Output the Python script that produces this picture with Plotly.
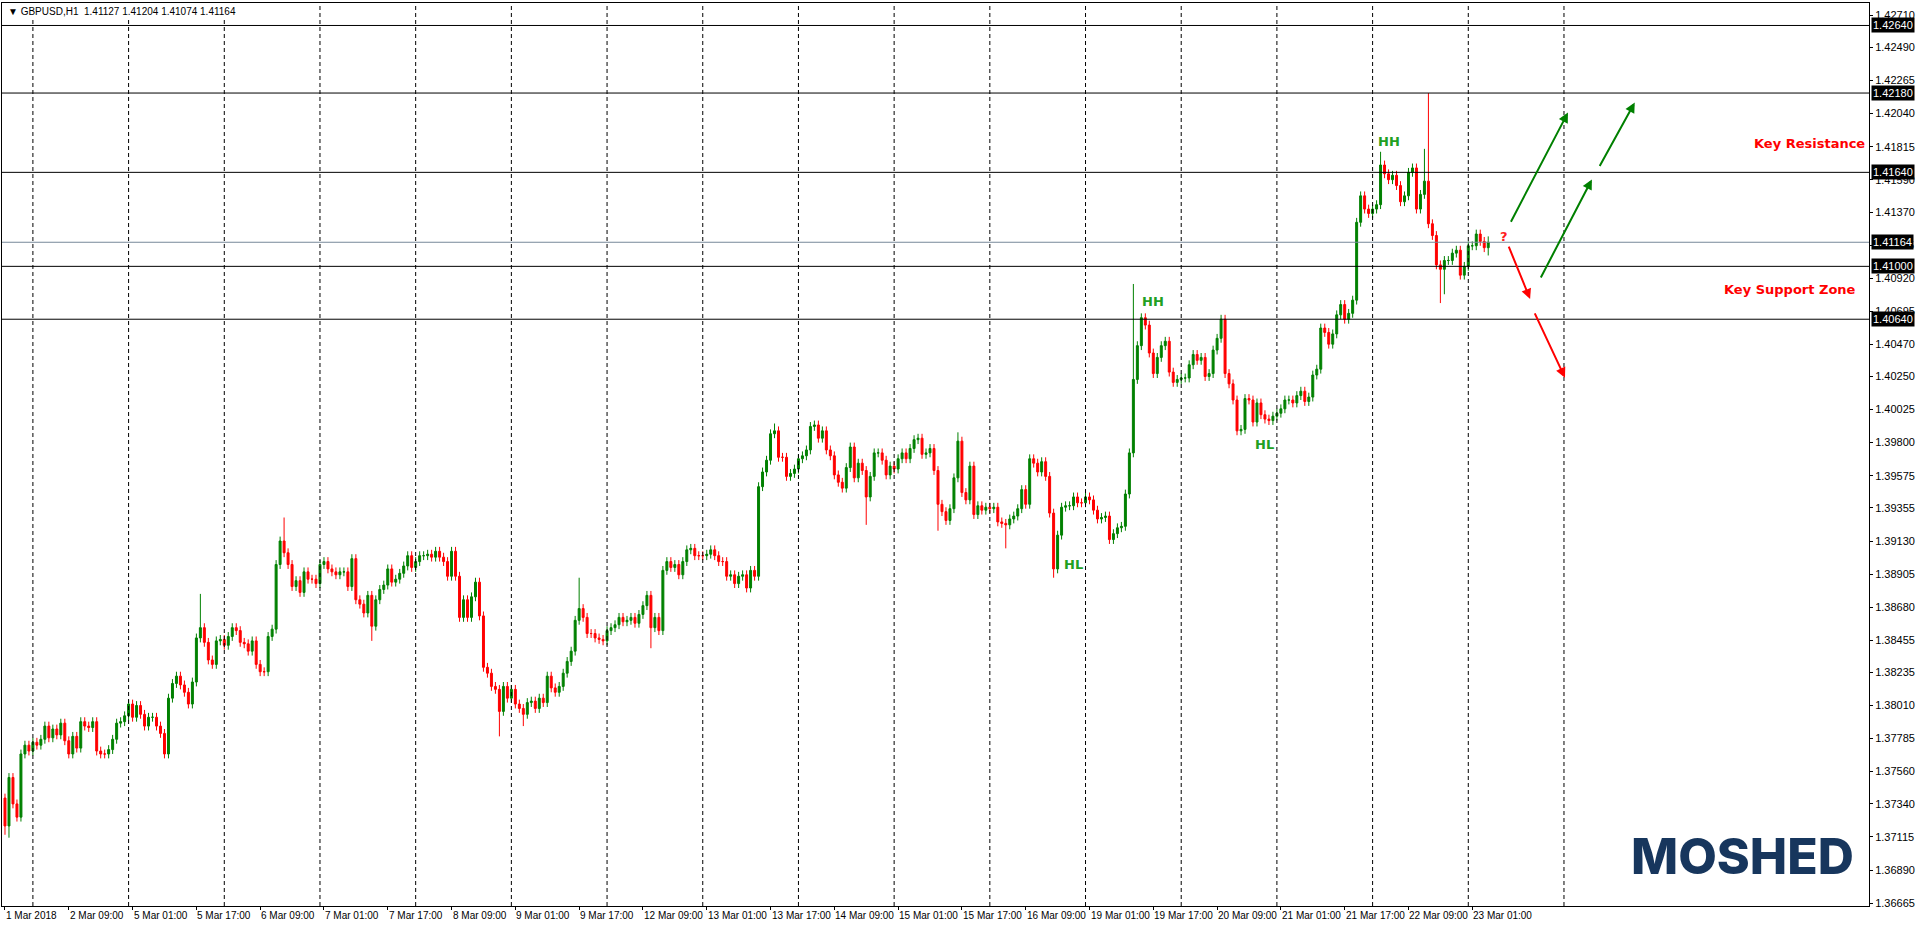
import plotly.graph_objects as go
from datetime import datetime, timedelta

# ---------------- data (hourly GBPUSD closes) ----------------
closes = [
1.3719,1.3752,1.3734,1.3725,1.3768,1.3774,1.3770,1.3776,1.3774,1.3778,
1.3787,1.3779,1.3785,1.3781,1.3789,1.3777,1.3768,1.3780,1.3772,1.3790,
1.3787,1.3786,1.3790,1.3770,1.3768,1.3768,1.3771,1.3778,1.3789,1.3790,
1.3794,1.3802,1.3793,1.3801,1.3795,1.3787,1.3793,1.3793,1.3787,1.3782,
1.3768,1.3806,1.3816,1.3821,1.3815,1.3810,1.3802,1.3817,1.3847,1.3854,
1.3844,1.3832,1.3829,1.3845,1.3846,1.3842,1.3848,1.3854,1.3852,1.3844,
1.3843,1.3838,1.3845,1.3829,1.3824,1.3824,1.3848,1.3853,1.3897,1.3913,
1.3905,1.3897,1.3882,1.3886,1.3878,1.3892,1.3887,1.3887,1.3884,1.3897,
1.3899,1.3894,1.3892,1.3890,1.3892,1.3892,1.3882,1.3901,1.3873,1.3870,
1.3864,1.3876,1.3855,1.3873,1.3880,1.3883,1.3894,1.3885,1.3887,1.3891,
1.3896,1.3903,1.3895,1.3899,1.3903,1.3903,1.3904,1.3902,1.3906,1.3902,
1.3899,1.3889,1.3906,1.3889,1.3861,1.3873,1.3861,1.3875,1.3885,1.3862,
1.3827,1.3823,1.3814,1.3812,1.3797,1.3814,1.3806,1.3812,1.3802,1.3799,
1.3795,1.3803,1.3804,1.3799,1.3806,1.3803,1.3821,1.3813,1.3810,1.3814,
1.3823,1.3831,1.3838,1.3859,1.3867,1.3861,1.3850,1.3850,1.3847,1.3846,
1.3845,1.3852,1.3854,1.3856,1.3861,1.3858,1.3859,1.3861,1.3857,1.3863,
1.3869,1.3876,1.3854,1.3861,1.3852,1.3893,1.3899,1.3895,1.3897,1.3890,
1.3899,1.3907,1.3908,1.3903,1.3903,1.3903,1.3904,1.3907,1.3903,1.3899,
1.3899,1.3889,1.3890,1.3884,1.3889,1.3890,1.3881,1.3893,1.3889,1.3950,
1.3960,1.3968,1.3986,1.3988,1.3970,1.3970,1.3957,1.3959,1.3962,1.3969,
1.3971,1.3975,1.3991,1.3992,1.3983,1.3988,1.3975,1.3971,1.3958,1.3953,
1.3949,1.3963,1.3977,1.3956,1.3966,1.3961,1.3943,1.3957,1.3973,1.3973,
1.3968,1.3958,1.3964,1.3962,1.3969,1.3973,1.3969,1.3976,1.3982,1.3983,
1.3972,1.3973,1.3976,1.3961,1.3938,1.3933,1.3927,1.3935,1.3956,1.3981,
1.3946,1.3941,1.3964,1.3931,1.3937,1.3934,1.3936,1.3935,1.3936,1.3926,
1.3925,1.3924,1.3928,1.3930,1.3935,1.3948,1.3938,1.3969,1.3966,1.3960,
1.3967,1.3957,1.3932,1.3894,1.3917,1.3936,1.3937,1.3937,1.3943,1.3939,
1.3939,1.3943,1.3941,1.3934,1.3928,1.3929,1.3930,1.3914,1.3918,1.3922,
1.3923,1.3945,1.3973,1.4023,1.4046,1.4065,1.4060,1.4041,1.4027,1.4038,
1.4046,1.4049,1.4028,1.4021,1.4023,1.4024,1.4024,1.4033,1.4040,1.4036,
1.4038,1.4025,1.4027,1.4043,1.4051,1.4064,1.4027,1.4020,1.4009,1.3988,
1.3989,1.4010,1.4009,1.3994,1.4007,1.3999,1.3996,1.3995,1.3998,1.4000,
1.4003,1.4009,1.4009,1.4007,1.4012,1.4015,1.4008,1.4011,1.4026,1.4030,
1.4058,1.4055,1.4047,1.4054,1.4067,1.4074,1.4064,1.4068,1.4077,1.4130,
1.4148,1.4139,1.4136,1.4139,1.4142,1.4169,1.4163,1.4159,1.4162,1.4155,
1.4144,1.4148,1.4164,1.4167,1.4139,1.4149,1.4158,1.4129,1.4121,1.4101,
1.4098,1.4104,1.4104,1.4109,1.4111,1.4094,1.4100,1.4114,1.4114,1.4122,
1.4117,1.41127,1.41164]
first_open = 1.3738
wick = 0.0003
high_over = {49: 1.3877, 70: 1.3929, 144: 1.3888, 193: 1.3993, 239: 1.3987,
             283: 1.4088, 285: 1.4068, 345: 1.4178, 356: 1.4180, 357: 1.4218, 372: 1.41204}
low_over = {0: 1.3713, 1: 1.3711, 92: 1.3845, 124: 1.3780, 130: 1.3787, 162: 1.3840,
            216: 1.3924, 234: 1.3920, 251: 1.3908, 263: 1.3888, 277: 1.3911,
            309: 1.3985, 360: 1.4075, 361: 1.4081, 372: 1.41074}

level_lines = [1.42640, 1.42180, 1.41640, 1.41000, 1.40640]
bid_line = 1.41164
y_ticks = [1.42710,1.42490,1.42265,1.42040,1.41815,1.41590,1.41370,1.41145,1.40920,
           1.40695,1.40470,1.40250,1.40025,1.39800,1.39575,1.39355,1.39130,1.38905,
           1.38680,1.38455,1.38235,1.38010,1.37785,1.37560,1.37340,1.37115,1.36890,1.36665]
swing_labels = [("HH", 288, 1.4076), ("HH", 347, 1.4185), ("HL", 268, 1.3897), ("HL", 316, 1.3979)]
green_arrows = [((377.5, 1.41294), (392, 1.42047)), ((385, 1.40914), (398, 1.41592)),
                ((399.75, 1.41673), (408.75, 1.42115))]
red_arrows = [((377, 1.41144), (382.5, 1.40778)), ((383.5, 1.40690), (391.25, 1.40242))]
last_grid_bar = 391

# ---------------- build ----------------
n = len(closes)
opens = [first_open] + closes[:-1]
opens[-1] = 1.41127
highs = [high_over.get(i, max(o, c) + wick) for i, (o, c) in enumerate(zip(opens, closes))]
lows = [low_over.get(i, min(o, c) - wick) for i, (o, c) in enumerate(zip(opens, closes))]
x = list(range(n))

times = []
t = datetime(2018, 3, 1, 17)
while len(times) < 480:
    if t.weekday() < 5:
        times.append(t)
    t += timedelta(hours=1)

fig = go.Figure(go.Candlestick(
    x=x, open=opens, high=highs, low=lows, close=closes,
    increasing=dict(line=dict(color="#008000", width=1), fillcolor="#008000"),
    decreasing=dict(line=dict(color="#ff0000", width=1), fillcolor="#ff0000"),
    whiskerwidth=0, hoverinfo="skip"))

YMIN, YMAX = 1.36645, 1.42793
XMIN, XMAX = -0.75, 467.5
FONT = "Liberation Sans"
shapes = []
for i, tt in enumerate(times):
    if tt.hour == 0 and XMIN < i <= last_grid_bar:
        shapes.append(dict(type="line", xref="x", yref="paper", x0=i, x1=i, y0=0, y1=1,
                           line=dict(color="black", width=1, dash="4px,3px")))
for lv in level_lines:
    shapes.append(dict(type="line", xref="paper", yref="y", x0=0, x1=1, y0=lv, y1=lv,
                       line=dict(color="black", width=1)))
shapes.append(dict(type="line", xref="paper", yref="y", x0=0, x1=1, y0=bid_line, y1=bid_line,
                   line=dict(color="#778899", width=1)))

ann = []
for lv in level_lines + [bid_line]:
    ann.append(dict(xref="paper", yref="y", x=1.0, y=lv, xanchor="left", yanchor="middle",
                    text=f"{lv:.5f}", showarrow=False, bgcolor="black", borderpad=1,
                    font=dict(color="white", size=11, family=FONT), xshift=2))
for i in range(0, 369, 16):
    tt = times[i]
    lab = "1 Mar 2018" if i == 0 else f"{tt.day} Mar {tt.hour:02d}:00"
    ann.append(dict(xref="x", yref="paper", x=i, y=0, xanchor="left", yanchor="top",
                    text=lab, showarrow=False, yshift=-2, xshift=-1,
                    font=dict(color="black", size=10, family=FONT)))
for txt, bx, py in swing_labels:
    ann.append(dict(xref="x", yref="y", x=bx, y=py, text=f"<b>{txt}</b>", showarrow=False,
                    font=dict(color="#22a022", size=13, family="DejaVu Sans")))
for (p0, p1), col in [(a, "#008000") for a in green_arrows] + [(a, "#ff0000") for a in red_arrows]:
    ann.append(dict(xref="x", yref="y", axref="x", ayref="y", x=p1[0], y=p1[1],
                    ax=p0[0], ay=p0[1], text="", showarrow=True, arrowhead=2,
                    arrowsize=1, arrowwidth=2, arrowcolor=col))
ann.append(dict(xref="x", yref="y", x=376, y=1.4120, text="<b>?</b>", showarrow=False,
                font=dict(color="#ff2020", size=13, family="DejaVu Sans")))
ann.append(dict(xref="paper", yref="y", x=0.999, y=1.41835, xanchor="right", text="<b>Key Resistance</b>",
                showarrow=False, font=dict(color="#ff0000", size=13, family="DejaVu Sans")))
ann.append(dict(xref="paper", yref="y", x=0.994, y=1.40845, xanchor="right", text="<b>Key Support Zone</b>",
                showarrow=False, font=dict(color="#ff0000", size=13, family="DejaVu Sans")))
ann.append(dict(xref="paper", yref="paper", x=0.002, y=0.999, xanchor="left", yanchor="top",
                text="▼ GBPUSD,H1  1.41127 1.41204 1.41074 1.41164", showarrow=False,
                bgcolor="white", font=dict(color="black", size=10, family=FONT)))
ann.append(dict(xref="paper", yref="paper", x=0.993, y=0.02, xanchor="right", yanchor="bottom",
                text="MOSHED", showarrow=False,
                font=dict(color="#17365d", size=50, family="Inter", weight=800)))

fig.update_layout(
    width=1916, height=927, margin=dict(l=1, r=44, t=3, b=21),
    paper_bgcolor="white", plot_bgcolor="white", showlegend=False,
    shapes=shapes, annotations=ann,
    xaxis=dict(range=[XMIN, XMAX], showgrid=False, showticklabels=False, zeroline=False,
               rangeslider=dict(visible=False), showline=True, linecolor="black", mirror=True,
               ticks="outside", tickvals=list(range(0, 369, 16)), ticklen=3, tickcolor="black"),
    yaxis=dict(range=[YMIN, YMAX], side="right", showgrid=False, zeroline=False,
               tickvals=y_ticks, ticktext=[f"{v:.5f}" for v in y_ticks],
               ticks="outside", ticklen=3, tickcolor="black",
               tickfont=dict(color="black", size=11, family=FONT),
               showline=True, linecolor="black", mirror=True),
)
html = fig.to_html(full_html=True, config={"displayModeBar": False})
html = html.replace("<body>", '<body style="margin:0;padding:0;overflow:hidden">', 1)
with open("out.html", "w", encoding="utf-8") as f:
    f.write(html)
# equivalent to fig.write_html("out.html") with body margin removed
